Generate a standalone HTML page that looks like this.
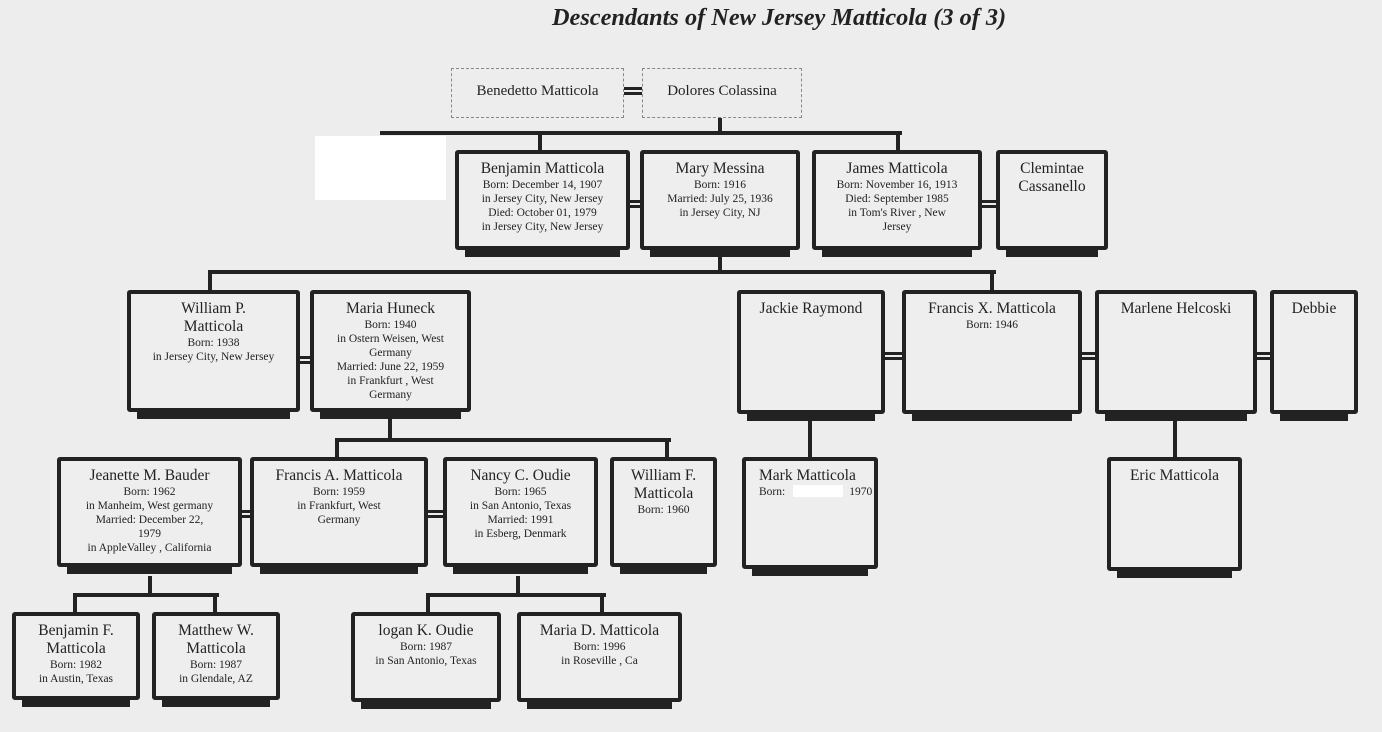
<!DOCTYPE html>
<html><head><meta charset="utf-8"><style>
body{margin:0;background:#ededed;width:1382px;height:732px;position:relative;overflow:hidden;font-family:"Liberation Serif",serif;color:#222}
.b{position:absolute;box-sizing:border-box;border:4px solid #222;background:#eeeeee;text-align:center;padding-top:6px;border-radius:3px}
.b:after{content:"";position:absolute;left:6px;right:6px;bottom:-11px;height:7px;background:#222}
.d{position:absolute;box-sizing:border-box;border:1px dashed #888;text-align:center;font-size:15px;padding-top:14px}
.n{font-size:15.5px;line-height:18px}
.s{font-size:11.5px;line-height:14px}
.h{position:absolute;height:4px;background:#222}
.v{position:absolute;width:4px;background:#222}
.m{position:absolute;height:2px;border-top:3px solid #222;border-bottom:3px solid #222}
</style></head><body>
<div style="position:absolute;left:552px;top:4px;font:bold italic 24.3px 'Liberation Serif',serif">Descendants of New Jersey Matticola (3 of 3)</div>

<div class="d" style="left:451px;top:68px;width:173px;height:50px">Benedetto Matticola</div>
<div class="d" style="left:642px;top:68px;width:160px;height:50px">Dolores Colassina</div>
<div class="m" style="left:624px;top:87px;width:18px"></div>

<div class="v" style="left:718px;top:118px;height:15px"></div>
<div class="h" style="left:380px;top:131px;width:522px"></div>
<div class="v" style="left:538px;top:131px;height:20px"></div>
<div class="v" style="left:896px;top:131px;height:20px"></div>
<div style="position:absolute;left:315px;top:136px;width:131px;height:64px;background:#fff"></div>

<div class="b" style="left:455px;top:150px;width:175px;height:100px"><div class="n">Benjamin Matticola</div><div class="s">Born: December 14, 1907<br>in Jersey City, New Jersey<br>Died: October 01, 1979<br>in Jersey City, New Jersey</div></div>
<div class="b" style="left:640px;top:150px;width:160px;height:100px"><div class="n">Mary Messina</div><div class="s">Born: 1916<br>Married: July 25, 1936<br>in Jersey City, NJ</div></div>
<div class="m" style="left:630px;top:200px;width:10px"></div>
<div class="b" style="left:812px;top:150px;width:170px;height:100px"><div class="n">James Matticola</div><div class="s">Born: November 16, 1913<br>Died: September 1985<br>in Tom's River , New<br>Jersey</div></div>
<div class="b" style="left:996px;top:150px;width:112px;height:100px"><div class="n">Clemintae<br>Cassanello</div></div>
<div class="m" style="left:982px;top:200px;width:14px"></div>

<div class="v" style="left:718px;top:255px;height:17px"></div>
<div class="h" style="left:208px;top:270px;width:788px"></div>
<div class="v" style="left:208px;top:270px;height:20px"></div>
<div class="v" style="left:990px;top:270px;height:20px"></div>

<div class="b" style="left:127px;top:290px;width:173px;height:122px"><div class="n">William P.<br>Matticola</div><div class="s">Born: 1938<br>in Jersey City, New Jersey</div></div>
<div class="b" style="left:310px;top:290px;width:161px;height:122px"><div class="n">Maria Huneck</div><div class="s">Born: 1940<br>in Ostern Weisen, West<br>Germany<br>Married: June 22, 1959<br>in Frankfurt , West<br>Germany</div></div>
<div class="m" style="left:300px;top:356px;width:10px"></div>
<div class="b" style="left:737px;top:290px;width:148px;height:124px"><div class="n">Jackie Raymond</div></div>
<div class="b" style="left:902px;top:290px;width:180px;height:124px"><div class="n">Francis X. Matticola</div><div class="s">Born: 1946</div></div>
<div class="m" style="left:885px;top:352px;width:17px"></div>
<div class="b" style="left:1095px;top:290px;width:162px;height:124px"><div class="n">Marlene Helcoski</div></div>
<div class="m" style="left:1082px;top:352px;width:13px"></div>
<div class="b" style="left:1270px;top:290px;width:88px;height:124px"><div class="n">Debbie</div></div>
<div class="m" style="left:1257px;top:352px;width:13px"></div>

<div class="v" style="left:388px;top:418px;height:22px"></div>
<div class="h" style="left:335px;top:438px;width:336px"></div>
<div class="v" style="left:335px;top:438px;height:20px"></div>
<div class="v" style="left:665px;top:438px;height:20px"></div>
<div class="v" style="left:808px;top:420px;height:38px"></div>
<div class="v" style="left:1173px;top:420px;height:38px"></div>

<div class="b" style="left:57px;top:457px;width:185px;height:110px"><div class="n">Jeanette M. Bauder</div><div class="s">Born: 1962<br>in Manheim, West germany<br>Married: December 22,<br>1979<br>in AppleValley , California</div></div>
<div class="b" style="left:250px;top:457px;width:178px;height:110px"><div class="n">Francis A. Matticola</div><div class="s">Born: 1959<br>in Frankfurt, West<br>Germany</div></div>
<div class="m" style="left:242px;top:510px;width:8px"></div>
<div class="b" style="left:443px;top:457px;width:155px;height:110px"><div class="n">Nancy C. Oudie</div><div class="s">Born: 1965<br>in San Antonio, Texas<br>Married: 1991<br>in Esberg, Denmark</div></div>
<div class="m" style="left:428px;top:510px;width:15px"></div>
<div class="b" style="left:610px;top:457px;width:107px;height:110px"><div class="n">William F.<br>Matticola</div><div class="s">Born: 1960</div></div>
<div class="b" style="left:742px;top:457px;width:136px;height:112px;text-align:left;padding-left:13px"><div class="n">Mark Matticola</div><div class="s">Born:<span style="display:inline-block;width:50px;height:12px;background:#fff;margin:0 6px -2px 8px"></span>1970</div></div>
<div class="b" style="left:1107px;top:457px;width:135px;height:114px"><div class="n">Eric Matticola</div></div>

<div class="v" style="left:148px;top:576px;height:19px"></div>
<div class="h" style="left:73px;top:593px;width:146px"></div>
<div class="v" style="left:73px;top:593px;height:20px"></div>
<div class="v" style="left:213px;top:593px;height:20px"></div>
<div class="v" style="left:516px;top:576px;height:19px"></div>
<div class="h" style="left:426px;top:593px;width:180px"></div>
<div class="v" style="left:426px;top:593px;height:20px"></div>
<div class="v" style="left:600px;top:593px;height:20px"></div>

<div class="b" style="left:12px;top:612px;width:128px;height:88px"><div class="n">Benjamin F.<br>Matticola</div><div class="s">Born: 1982<br>in Austin, Texas</div></div>
<div class="b" style="left:152px;top:612px;width:128px;height:88px"><div class="n">Matthew W.<br>Matticola</div><div class="s">Born: 1987<br>in Glendale, AZ</div></div>
<div class="b" style="left:351px;top:612px;width:150px;height:90px"><div class="n">logan K. Oudie</div><div class="s">Born: 1987<br>in San Antonio, Texas</div></div>
<div class="b" style="left:517px;top:612px;width:165px;height:90px"><div class="n">Maria D. Matticola</div><div class="s">Born: 1996<br>in Roseville , Ca</div></div>
</body></html>
